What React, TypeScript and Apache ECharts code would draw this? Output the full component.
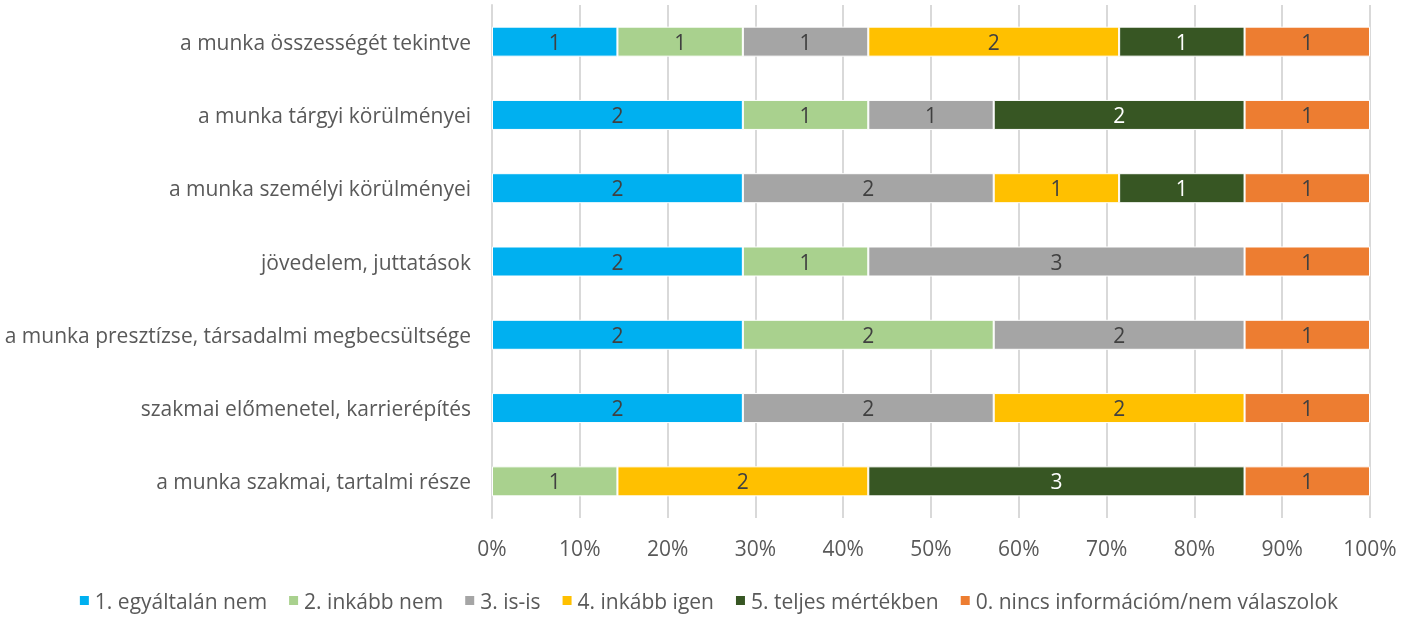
import React, { useEffect, useRef } from "react";
import * as echarts from "echarts";

// categories listed top to bottom
const categories = [
  "a munka összességét tekintve",
  "a munka tárgyi körülményei",
  "a munka személyi körülményei",
  "jövedelem, juttatások",
  "a munka presztízse, társadalmi megbecsültsége",
  "szakmai előmenetel, karrierépítés",
  "a munka szakmai, tartalmi része",
];

const seriesNames = [
  "1. egyáltalán nem",
  "2. inkább nem",
  "3. is-is",
  "4. inkább igen",
  "5. teljes mértékben",
  "0. nincs információm/nem válaszolok",
];

const colors = ["#00B0F0", "#A9D18E", "#A5A5A5", "#FFC000", "#375623", "#ED7D31"];
const labelColors = ["#404040", "#404040", "#404040", "#404040", "#FFFFFF", "#404040"];

// counts per series, in category order (top to bottom)
const s1 = [1, 2, 2, 2, 2, 2, 0];
const s2 = [1, 1, 0, 1, 2, 0, 1];
const s3 = [1, 1, 2, 3, 2, 2, 0];
const s4 = [2, 0, 1, 0, 0, 2, 2];
const s5 = [1, 2, 1, 0, 0, 0, 3];
const s0 = [1, 1, 1, 1, 1, 1, 1];

const allCounts = [s1, s2, s3, s4, s5, s0];

const xTicks = ["0%", "10%", "20%", "30%", "40%", "50%", "60%", "70%", "80%", "90%", "100%"];

export default function App() {
  const ref = useRef<HTMLDivElement>(null);
  useEffect(() => {
    if (!ref.current) return;
    const chart = echarts.init(ref.current, null, { renderer: "svg" });
    const totals = categories.map((_, i) => allCounts.reduce((a, s) => a + s[i], 0));
    const font = "'Open Sans', Lato, sans-serif";
    chart.setOption({
      animation: false,
      textStyle: { fontFamily: font },
      grid: { left: 492, right: 46, top: 5, bottom: 100, containLabel: false },
      legend: {
        bottom: 2,
        left: "center",
        itemWidth: 11,
        itemHeight: 11,
        itemGap: 20,
        icon: "rect",
        textStyle: { color: "#595959", fontSize: 21, fontFamily: font },
        data: seriesNames,
      },
      xAxis: {
        type: "value",
        min: 0,
        max: 100,
        interval: 10,
        axisLabel: {
          color: "#595959",
          fontSize: 21,
          margin: 19,
          formatter: (v: number) => xTicks[Math.round(v / 10)],
        },
        splitLine: { show: true, lineStyle: { color: "#D9D9D9", width: 2 } },
        axisLine: { show: false },
        axisTick: { show: false },
      },
      yAxis: {
        type: "category",
        inverse: true,
        data: categories,
        axisLabel: { color: "#595959", fontSize: 21, margin: 21 },
        axisLine: { show: true, lineStyle: { color: "#D9D9D9", width: 2 } },
        axisTick: { show: false },
      },
      series: allCounts.map((counts, si) => ({
        name: seriesNames[si],
        type: "bar",
        stack: "total",
        barWidth: 30,
        itemStyle: { color: colors[si], borderColor: "#FFFFFF", borderWidth: 1 },
        label: {
          show: true,
          position: "inside",
          color: labelColors[si],
          fontSize: 21,
          fontFamily: font,
          formatter: (p: any) => (counts[p.dataIndex] > 0 ? String(counts[p.dataIndex]) : ""),
        },
        data: counts.map((c, i) => (c > 0 ? (c / totals[i]) * 100 : null)),
      })),
    });
    return () => chart.dispose();
  }, []);
  return (
    <div
      ref={ref}
      style={{ position: "fixed", left: 0, top: 0, width: 1416, height: 618 }}
    />
  );
}
